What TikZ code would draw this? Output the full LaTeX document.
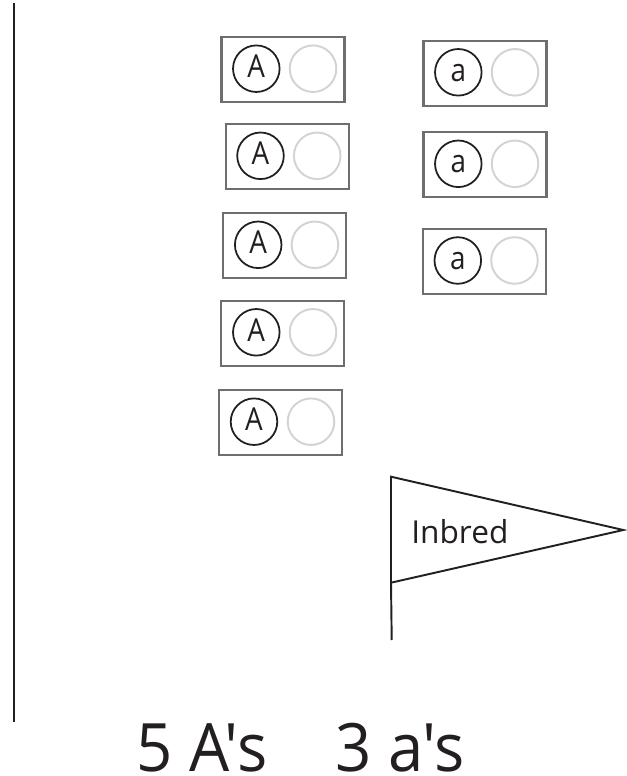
\documentclass[tikz,border=0pt]{standalone}
\usepackage{fontspec}
\setmainfont{Open Sans}
\newfontfamily\plainsans[FakeStretch=0.95]{Open Sans}
\newfontfamily\narrowsans[FakeStretch=0.88]{Open Sans}
\definecolor{boxgray}{HTML}{6D6E71}
\definecolor{ringgray}{HTML}{D1D3D4}
\definecolor{inkblack}{HTML}{231F20}
\tikzset{
	genobox/.style={draw=boxgray, line width=1.2pt, minimum width=70pt, minimum height=37pt, inner sep=0pt},
	allele/.style={circle, draw=inkblack, line width=1pt, minimum size=26.5pt, inner sep=0pt, text=inkblack, text height=10.2pt, text depth=0pt, font=\narrowsans\fontsize{18}{18}\selectfont},
	blankallele/.style={circle, draw=ringgray, line width=1.1pt, minimum size=26.5pt, inner sep=0pt},
	flagline/.style={draw=inkblack, line width=1.1pt},
	flaglabel/.style={text=inkblack, inner sep=0pt, anchor=base west, font=\fontsize{18}{18}\selectfont},
	countlabel/.style={text=inkblack, inner sep=0pt, anchor=base west, font=\plainsans\fontsize{38}{38}\selectfont}
}
\begin{document}
\begin{tikzpicture}[x=0.02cm, y=-0.02cm]
	\useasboundingbox (0,0) rectangle (626,776);
	\coordinate (ruleTop) at (14,3);
	\coordinate (ruleEnd) at (14,722);
	\draw[flagline] (ruleTop)--(ruleEnd);
	% dominant
	\node[genobox] (boxA1) at (283,69.6) {};
	\node[genobox] (boxA2) at (287.2,156.8) {};
	\node[genobox] (boxA3) at (284.8,245.8) {};
	\node[genobox] (boxA4) at (282.6,333.3) {};
	\node[genobox] (boxA5) at (280.6,422.6) {};
	\node[allele] (leftA1) at (256.3,68.7) {A};
	\node[allele] (leftA2) at (260.5,155.8) {A};
	\node[allele] (leftA3) at (258.2,244.8) {A};
	\node[allele] (leftA4) at (256.3,332.3) {A};
	\node[allele] (leftA5) at (254,421.7) {A};
	\node[blankallele] (rightA1) at (313,68.7) {};
	\node[blankallele] (rightA2) at (317.2,155.8) {};
	\node[blankallele] (rightA3) at (314.9,244.8) {};
	\node[blankallele] (rightA4) at (313,332.3) {};
	\node[blankallele] (rightA5) at (311,421.7) {};
	% recessive
	\node[genobox] (boxa1) at (485,73.2) {};
	\node[genobox] (boxa2) at (485,164.8) {};
	\node[genobox] (boxa3) at (484.5,261.5) {};
	\node[allele] (lefta1) at (458.3,72.3) {a};
	\node[allele] (lefta2) at (458.3,163.8) {a};
	\node[allele] (lefta3) at (457.8,260.5) {a};
	\node[blankallele] (righta1) at (515,72.3) {};
	\node[blankallele] (righta2) at (515,163.8) {};
	\node[blankallele] (righta3) at (514.5,260.5) {};
	% flag
	\coordinate (flagTop) at (391,476.7);
	\coordinate (flagTip) at (623.3,530);
	\coordinate (flagLow) at (391,582.7);
	\coordinate (poleEnd) at (391.7,640);
	\draw[flagline] (flagTop)--(flagTip)--(flagLow)--cycle;
	\draw[flagline] (flagLow)--(poleEnd);
	\node[flaglabel] (inbred) at (411,543) {Inbred};
	% totals
	\node[countlabel] (countA) at (136,771) {5 A's};
	\node[countlabel] (counta) at (335,771) {3 a's};
\end{tikzpicture}
\end{document}
